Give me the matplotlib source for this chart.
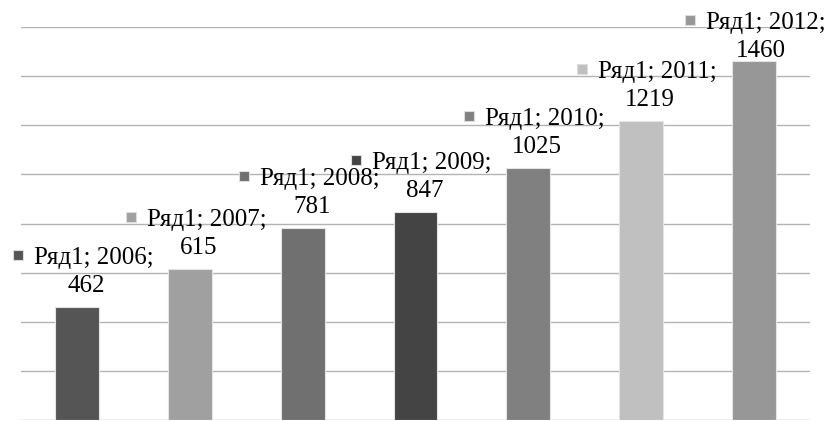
import matplotlib
matplotlib.use("Agg")
from matplotlib import pyplot as plt
from matplotlib.transforms import offset_copy

# данные ряда
years = ["2006", "2007", "2008", "2009", "2010", "2011", "2012"]
values = [462, 615, 781, 847, 1025, 1219, 1460]
colors = ["#555555", "#a0a0a0", "#707070", "#444444", "#808080", "#c0c0c0", "#979797"]
series_name = "Ряд1"

font = ["Liberation Serif", "DejaVu Serif"]
plt.rcParams['font.family'] = font

fig = plt.figure(figsize=(8.28, 4.21), dpi=100)
ax = fig.add_axes([21 / 828, 1 / 421, 789 / 828, 393 / 421])

x = list(range(len(values)))
ax.bar(x, values, width=0.39, color=colors, edgecolor="#e4e4e4", linewidth=0.8, zorder=2)

ax.set_xlim(-0.5, len(values) - 0.5)
ax.set_ylim(0, 1600)
ax.set_yticks(range(0, 1601, 200))
ax.yaxis.grid(True, color="#b3b3b3", linewidth=1)
ax.set_axisbelow(True)
ax.tick_params(left=False, bottom=False, labelleft=False, labelbottom=False)
for s in ax.spines.values():
    s.set_visible(False)

fig.canvas.draw()
renderer = fig.canvas.get_renderer()
fig_w = fig.get_figwidth() * fig.dpi
fig_h = fig.get_figheight() * fig.dpi

# подписи данных: маркер + "Ряд1; год;" и значение второй строкой
for i, (year, v, c) in enumerate(zip(years, values, colors)):
    top = ax.transData.transform((i, v))[1]
    dy = -max(0.0, top + 43 - (fig_h - 29))  # не вылезать за верх рисунка

    def tr(px, py, dx=0.0):
        return offset_copy(ax.transData, fig, x=px + dx, y=py + dy, units='dots')

    num = ax.text(i, v, str(v), transform=tr(9, 15), ha="center", va="baseline",
                  fontsize=18, family=font, clip_on=False)
    head = ax.text(i, v, f"{series_name}; {year};", transform=tr(-43, 43), ha="left",
                   va="baseline", fontsize=18, family=font, clip_on=False)
    # не вылезать за правый край
    dx = min(0.0, fig_w - 2 - head.get_window_extent(renderer).x1)
    if dx < 0:
        head.set_transform(tr(-43, 43, dx))
        num.set_transform(tr(9, 15, dx / 2))
    ax.plot(i, v, marker="s", markersize=7, color=c, markeredgecolor="#dddddd",
            markeredgewidth=0.8, transform=tr(-59, 52, dx), clip_on=False)

fig.savefig("out.png", dpi=100)
